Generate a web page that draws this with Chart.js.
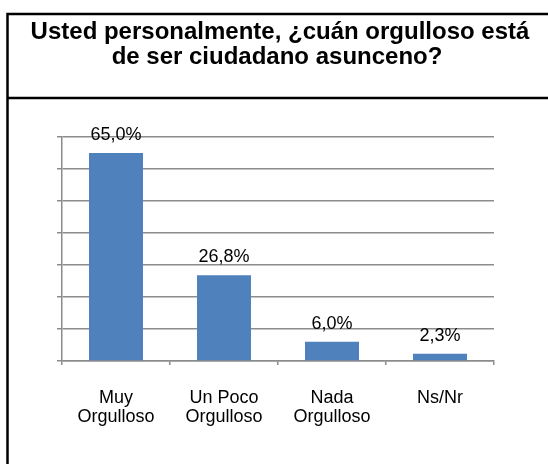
<!DOCTYPE html>
<html>
<head>
<meta charset="utf-8">
<script src="https://cdn.jsdelivr.net/npm/chart.js@4"></script>
<style>
  body { margin: 0; background: #fff; }
</style>
</head>
<body>
<canvas id="myChart" width="548" height="464"></canvas>
<script>
const categories = [
    ['Muy', 'Orgulloso'],
    ['Un Poco', 'Orgulloso'],
    ['Nada', 'Orgulloso'],
    'Ns/Nr'
];
const values = [65.0, 26.8, 6.0, 2.3];
const titleLines = [
    'Usted personalmente, ¿cuán orgulloso está',
    'de ser ciudadano asunceno?'
];

const fontFamily = '"Liberation Sans", Arial, sans-serif';
const gridColor = '#8c8c8c';

// frame and title drawn straight on the canvas
const framePlugin = {
    id: 'frame',
    afterDraw(chart) {
        const c = chart.ctx;
        c.save();
        c.strokeStyle = '#000';
        c.lineWidth = 2.5;
        c.beginPath();
        c.moveTo(7.5, 464);
        c.lineTo(7.5, 14);
        c.lineTo(548, 14);
        c.moveTo(7.5, 98);
        c.lineTo(548, 98);
        c.stroke();

        c.fillStyle = '#000';
        c.font = 'bold 24px ' + fontFamily;
        c.textAlign = 'center';
        c.textBaseline = 'middle';
        c.fillText(titleLines[0], 280, 32);
        c.fillText(titleLines[1], 277, 57);
        c.restore();
    }
};

const valueLabels = {
    id: 'valueLabels',
    afterDatasetsDraw(chart) {
        const c = chart.ctx;
        c.save();
        c.fillStyle = '#000';
        c.font = '18px ' + fontFamily;
        c.textAlign = 'center';
        c.textBaseline = 'alphabetic';
        chart.getDatasetMeta(0).data.forEach((bar, i) => {
            const txt = values[i].toFixed(1).replace('.', ',') + '%';
            c.fillText(txt, bar.x, bar.y - 13);
        });
        c.restore();
    }
};

const ctx = document.getElementById('myChart');

new Chart(ctx, {
    type: 'bar',
    data: {
        labels: categories,
        datasets: [{
            data: values,
            backgroundColor: '#4f81bd',
            barPercentage: 0.5,
            categoryPercentage: 1.0
        }]
    },
    options: {
        responsive: false,
        animation: false,
        layout: {
            padding: { top: 137, left: 57, right: 54, bottom: 13 }
        },
        plugins: {
            legend: { display: false },
            title: { display: false },
            tooltip: { enabled: false }
        },
        scales: {
            x: {
                border: { color: gridColor, width: 1.5 },
                grid: {
                    drawOnChartArea: false,
                    drawTicks: true,
                    tickLength: 4,
                    color: gridColor,
                    lineWidth: 1.5
                },
                ticks: {
                    color: '#000',
                    padding: 24,
                    maxRotation: 0,
                    font: { family: fontFamily, size: 18, lineHeight: '19px' }
                }
            },
            y: {
                min: 0,
                max: 70,
                border: { color: gridColor, width: 1.5 },
                grid: {
                    color: gridColor,
                    lineWidth: 1.5,
                    tickLength: 5
                },
                ticks: {
                    display: false,
                    stepSize: 10
                }
            }
        }
    },
    plugins: [framePlugin, valueLabels]
});
</script>
</body>
</html>
